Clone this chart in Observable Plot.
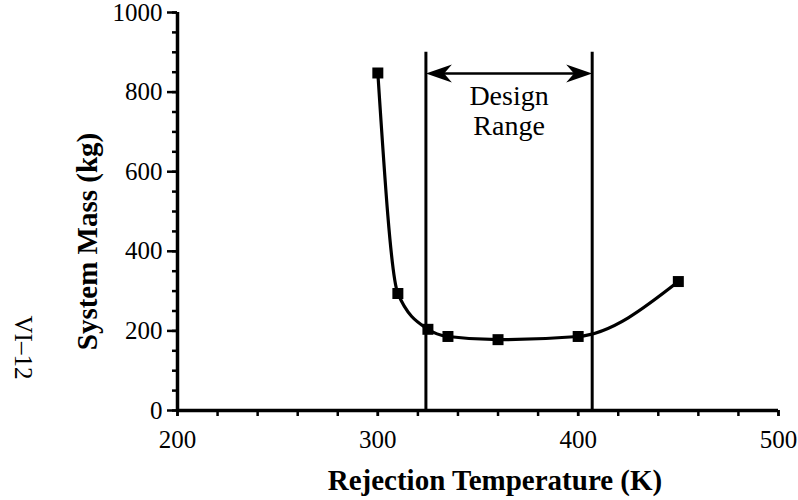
<!DOCTYPE html>
<html>
<head>
<meta charset="utf-8">
<script src="https://cdn.jsdelivr.net/npm/d3@7"></script>
<script src="https://cdn.jsdelivr.net/npm/@observablehq/plot@0.6"></script>
<style>
  html, body { margin: 0; padding: 0; background: #fff; }
  svg text { font-family: 'Liberation Serif', 'Times New Roman', serif !important; }
</style>
</head>
<body>
<div id="chart"></div>
<script>
// Data
const temps = [300, 310, 325, 335, 360, 400, 450];
const masses = [848, 294, 204, 186, 178, 186, 324];
const designRange = [324, 407];
const designTop = 900;
const arrowLevel = 847;
const designLabel = ["Design", "Range"];
const designLabelY = [790, 714];
const xTickLabels = [200, 300, 400, 500];
const xMinorTicks = d3.range(200, 501, 20);
const yTickLabels = [0, 200, 400, 600, 800, 1000];
const yMinorTicks = d3.range(0, 1001, 50);
const xTitle = "Rejection Temperature (K)";
const yTitle = "System Mass (kg)";
const pageNote = "VI\u201312";

const points = temps.map((t, i) => ({t, m: masses[i]}));
const designMid = (designRange[0] + designRange[1]) / 2;

const arrowRight = {draw(ctx) { const L = 26, W = 9; ctx.moveTo(0, 0); ctx.lineTo(-L, -W); ctx.lineTo(-L * 0.7, 0); ctx.lineTo(-L, W); ctx.closePath(); }};
const arrowLeft = {draw(ctx) { const L = 26, W = 9; ctx.moveTo(0, 0); ctx.lineTo(L, -W); ctx.lineTo(L * 0.7, 0); ctx.lineTo(L, W); ctx.closePath(); }};

const font = "'Liberation Serif', 'Times New Roman', serif";

const chart = Plot.plot({
  width: 798,
  height: 500,
  marginLeft: 177,
  marginRight: 20,
  marginTop: 12,
  marginBottom: 90,
  style: {fontFamily: font, fontSize: "25px", color: "#000", background: "#fff"},
  x: {domain: [200, 500]},
  y: {domain: [0, 1000]},
  marks: [
    // minor ticks
    Plot.axisX({ticks: xMinorTicks, tickSize: 6, tickFormat: () => "", strokeWidth: 2.5, label: null}),
    Plot.axisY({ticks: yMinorTicks, tickSize: 5, tickFormat: () => "", strokeWidth: 2.5, label: null}),
    // major ticks with labels
    Plot.axisX({ticks: xTickLabels, tickSize: 6, tickPadding: 14, tickFormat: d3.format("d"), strokeWidth: 2.5, label: null, fontSize: 25, fontFamily: font, fontVariant: "normal"}),
    Plot.axisY({ticks: yTickLabels, tickSize: 10, tickPadding: 5, tickFormat: d3.format("d"), strokeWidth: 2.5, label: null, fontSize: 25, fontFamily: font, fontVariant: "normal"}),
    // axis lines
    Plot.ruleX([200], {y1: 0, y2: 1000, strokeWidth: 3.5}),
    Plot.ruleY([0], {x1: 200, x2: 500, strokeWidth: 3.5}),
    // design range lines
    Plot.ruleX(designRange, {y1: 0, y2: designTop, strokeWidth: 3}),
    Plot.ruleY([arrowLevel], {x1: designRange[0] + 8, x2: designRange[1] - 8, strokeWidth: 2.5}),
    Plot.dot([designRange[0]], {x: d => d, y: () => arrowLevel, symbol: arrowLeft, fill: "#000", stroke: "none"}),
    Plot.dot([designRange[1]], {x: d => d, y: () => arrowLevel, symbol: arrowRight, fill: "#000", stroke: "none"}),
    Plot.text(designLabel, {x: () => designMid, y: (d, i) => designLabelY[i], text: d => d, fontSize: 28, fill: "#000", fontFamily: font}),
    // curve and markers
    Plot.line(points, {x: "t", y: "m", curve: "monotone-x", strokeWidth: 3.2, stroke: "#000"}),
    Plot.dot(points, {x: "t", y: "m", symbol: "square", r: 6.2, fill: "#000", stroke: "none"}),
    // titles
    Plot.text([xTitle], {frameAnchor: "bottom", dx: 17, dy: 70, text: d => d, fontSize: 29, fontWeight: "bold", fill: "#000", lineAnchor: "middle", textAnchor: "middle", fontFamily: font}),
    Plot.text([yTitle], {frameAnchor: "left", dx: -90, dy: 30, rotate: -90, text: d => d, fontSize: 29, fontWeight: "bold", fill: "#000", lineAnchor: "middle", textAnchor: "middle", fontFamily: font}),
    Plot.text([pageNote], {frameAnchor: "left", dx: -155, dy: 136, rotate: 90, text: d => d, fontSize: 25, fill: "#000", lineAnchor: "middle", textAnchor: "middle", letterSpacing: "4px", fontFamily: font})
  ]
});
d3.select(chart).selectAll("text").style("font-family", font);
document.getElementById("chart").appendChild(chart);
</script>
</body>
</html>
